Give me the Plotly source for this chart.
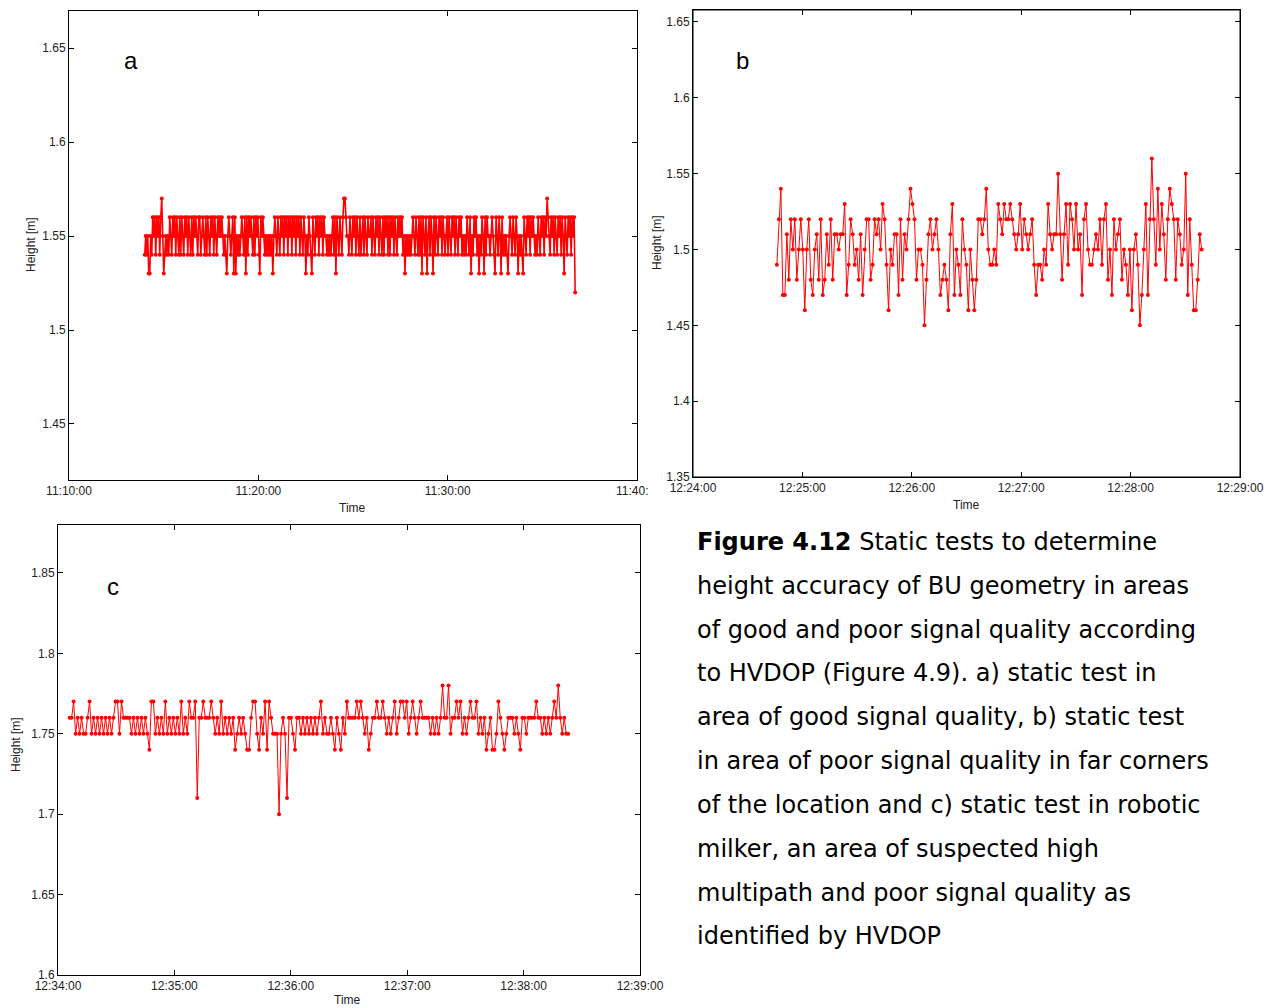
import pandas as pd
import plotly.graph_objects as go

# page body has an 8 px margin: figure occupies 8..1280 x 8..1008 of the window
OFF = 8
W, H = 1280 - OFF, 1008 - OFF

# ---------------- data ----------------
# Panel a: each digit = hundredths of a metre above 1.50 m
heights_a_digits = (
    "45453354" "65646564675" "3" "45454"
    "6546564654" "6465465646" "5464656546" "6456546465" "4656465465" "656"
    "5454356545636354545" "6546364656546465643656" "54545454535"
    "6546546564656465" "646564656465465" "3546543" "6546564656465" "5454545"
    "646365465467765" "54"
    "6546564654" "6456465465" "5646546564" "6546465646" "4656465465" "6564"
    "535454545" "65465464636546356465364"
    "6546564654" "5646546564" "6546564" "5454" "65463546564" "5354" "6536465"
    "545" "654365465364" "545435" "65465465" "35454" "36546564656" "5454"
    "654656465" "7" "6546564654656465" "3" "6546564656" "2"
)
start_a, end_a = "2012-01-01 11:14:00", "2012-01-01 11:36:44"

# Panel b: hundredths of a metre above 1.00 m
heights_b_cm = [
    49, 52, 54, 47, 47, 51, 48, 52, 50, 52,
    48, 50, 52, 50, 46, 50, 52, 48, 47, 50,
    51, 48, 52, 47, 48, 51, 49, 52, 48, 51,
    51, 50, 51, 51, 53, 47, 49, 52, 51, 49,
    50, 48, 51, 47, 50, 52, 52, 48, 49, 52,
    51, 52, 50, 53, 52, 49, 46, 50, 49, 51,
    51, 47, 52, 48, 51, 50, 52, 54, 53, 52,
    48, 50, 50, 49, 45, 48, 51, 52, 50, 51,
    52, 50, 47, 48, 49, 48, 46, 51, 53, 47,
    50, 49, 47, 52, 50, 49, 46, 50, 48, 46,
    48, 52, 52, 51, 52, 54, 50, 49, 49, 50,
    49, 53, 52, 51, 53, 52, 52, 53, 52, 51,
    50, 51, 53, 50, 52, 51, 50, 51, 52, 49,
    47, 49, 49, 48, 50, 49, 53, 51, 50, 51,
    51, 55, 51, 48, 51, 53, 49, 53, 52, 50,
    53, 50, 51, 47, 52, 53, 50, 49, 49, 50,
    51, 50, 52, 49, 52, 53, 48, 50, 47, 52,
    50, 51, 52, 48, 50, 49, 47, 50, 46, 50,
    51, 49, 45, 47, 50, 53, 47, 52, 56, 52,
    49, 54, 50, 53, 51, 48, 52, 54, 53, 52,
    48, 52, 51, 49, 50, 55, 47, 52, 49, 46,
    46, 48, 51, 50,
]
start_b, end_b = "2012-01-01 12:24:46", "2012-01-01 12:28:39"

# Panel c: each digit = hundredths of a metre above 1.70 m
heights_c_digits = (
    "6675656556" "7565656565" "6567757666" "6565656565" "4775656575"
    "6565657565" "7667166766" "6765657565" "6564565654" "4677546574"
    "7655505651" "6654665656" "5656567565" "5654654657" "6666767656"
    "4566766765" "6567567767" "5676567666" "6565656866" "8566767565"
    "6766756564" "5644576545" "6665654665" "6666766565" "65676865655"
)
start_c, end_c = "2012-01-01 12:34:06", "2012-01-01 12:38:23"

ticks_a_x = ["11:10:00", "11:20:00", "11:30:00", "11:40:00"]
ticks_a_y = [1.45, 1.5, 1.55, 1.6, 1.65]
ticks_b_x = ["12:24:00", "12:25:00", "12:26:00", "12:27:00", "12:28:00", "12:29:00"]
ticks_b_y = [1.35, 1.4, 1.45, 1.5, 1.55, 1.6, 1.65]
ticks_c_x = ["12:34:00", "12:35:00", "12:36:00", "12:37:00", "12:38:00", "12:39:00"]
ticks_c_y = [1.6, 1.65, 1.7, 1.75, 1.8, 1.85]

caption_lines = [
    "<b>Figure 4.12</b> Static tests to determine",
    "height accuracy of BU geometry in areas",
    "of good and poor signal quality according",
    "to HVDOP (Figure 4.9). a) static test in",
    "area of good signal quality, b) static test",
    "in area of poor signal quality in far corners",
    "of the location and c) static test in robotic",
    "milker, an area of suspected high",
    "multipath and poor signal quality as",
    "identified by HVDOP",
]

# ---------------- build ----------------
DAY = "2012-01-01 "
ha = [round(1.50 + int(d) / 100, 2) for d in heights_a_digits]
hb = [round(1.00 + v / 100, 2) for v in heights_b_cm]
hc = [round(1.70 + int(d) / 100, 2) for d in heights_c_digits]
ta = pd.date_range(start_a, end_a, periods=len(ha))
tb = pd.date_range(start_b, end_b, periods=len(hb))
tc = pd.date_range(start_c, end_c, periods=len(hc))

RED = "#ff0000"
fig = go.Figure()
for t, h, xa, ya, lw in [(ta, ha, "x", "y", 1.6), (tb, hb, "x2", "y2", 1),
                         (tc, hc, "x3", "y3", 1)]:
    fig.add_trace(go.Scatter(
        x=t, y=h, xaxis=xa, yaxis=ya, mode="lines+markers",
        line=dict(color=RED, width=lw),
        marker=dict(color=RED, size=4, symbol="circle"),
        showlegend=False,
    ))


def px(x):
    return (x - OFF) / W


def py(y):
    return 1 - (y - OFF) / H


tickfont = dict(family="Liberation Sans, Arial", size=12, color="#222")
axis_common = dict(
    showline=True, linecolor="black", linewidth=1, mirror="ticks",
    ticks="inside", ticklen=5, tickcolor="black", showgrid=False,
    zeroline=False, tickfont=tickfont, automargin=False,
)


def xaxis(dom, rng, ticks, texts):
    return dict(axis_common, type="date", domain=[px(dom[0]), px(dom[1])],
                range=[DAY + rng[0], DAY + rng[1]],
                tickvals=[DAY + t for t in ticks], ticktext=texts)


def yaxis(dom, rng, ticks):
    return dict(axis_common, domain=[py(dom[1]), py(dom[0])], range=rng,
                tickvals=ticks, ticktext=[f"{v:g}" for v in ticks])


fig.update_layout(
    width=W, height=H, margin=dict(l=0, r=0, t=0, b=0, autoexpand=False),
    paper_bgcolor="white", plot_bgcolor="white",
    xaxis=dict(xaxis((69, 637), ("11:10:00", "11:40:00"), ticks_a_x,
                     ticks_a_x[:3] + [""]), anchor="y"),
    yaxis=dict(yaxis((11, 480), [1.4202, 1.6697], ticks_a_y), anchor="x"),
    xaxis2=dict(xaxis((693, 1240), ("12:24:00", "12:29:00"), ticks_b_x, ticks_b_x), anchor="y2"),
    yaxis2=dict(yaxis((10, 477), [1.35, 1.6579], ticks_b_y), anchor="x2"),
    xaxis3=dict(xaxis((58, 640), ("12:34:00", "12:39:00"), ticks_c_x, ticks_c_x), anchor="y3"),
    yaxis3=dict(yaxis((525, 975), [1.60, 1.8798], ticks_c_y), anchor="x3"),
)

# frame of panel b (top edge sits very near the page edge)
fig.add_shape(type="rect", xref="x2 domain", yref="y2 domain", x0=0, x1=1, y0=0, y1=1,
              line=dict(color="black", width=1), fillcolor="rgba(0,0,0,0)", layer="above")

ann = []
small = dict(family="Liberation Sans, Arial", size=12, color="#222")
# truncated last tick label of panel a
ann.append(dict(x=px(614), y=py(491), text="11:40:", xanchor="left", yanchor="middle", font=small))
# axis titles
for (x, y) in [(352, 508), (966, 505), (347, 1000)]:
    ann.append(dict(x=px(x), y=py(y), text="Time", xanchor="center", yanchor="middle", font=small))
for (x, y) in [(31, 245), (657, 243), (16, 745)]:
    ann.append(dict(x=px(x), y=py(y), text="Height [m]", textangle=-90,
                    xanchor="center", yanchor="middle", font=small))
# panel letters
for (x, y, s) in [(131, 60, "a"), (742, 60, "b"), (113, 586, "c")]:
    ann.append(dict(x=px(x), y=py(y), text=s, xanchor="center", yanchor="middle",
                    font=dict(family="Liberation Sans, Arial", size=24, color="black")))
# caption
cap_y = [542, 586, 630, 673, 717, 761, 805, 849, 893, 936]
for line, y in zip(caption_lines, cap_y):
    ann.append(dict(x=px(695), y=py(y), text=line, xanchor="left", yanchor="middle",
                    font=dict(family="DejaVu Sans, Verdana", size=24, color="black")))
for a in ann:
    a.update(xref="paper", yref="paper", showarrow=False)
fig.update_layout(annotations=ann)

fig.write_html("out.html")
